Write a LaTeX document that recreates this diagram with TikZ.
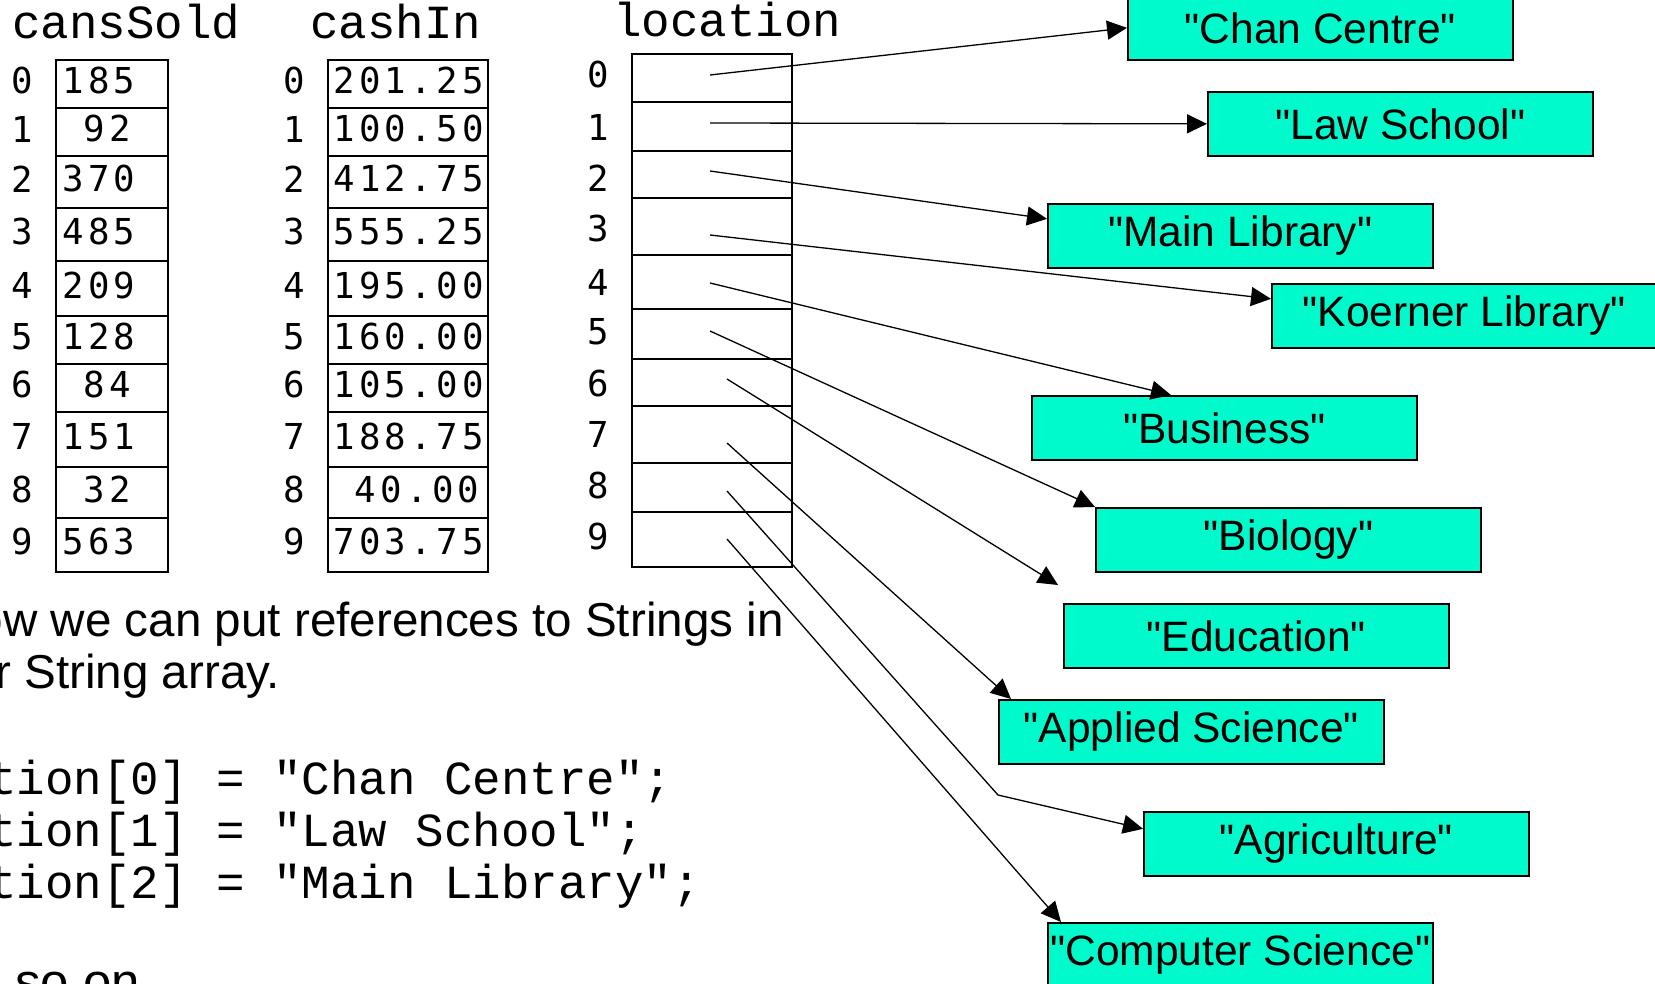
\documentclass[tikz,border=0pt]{standalone}
\usepackage{fontspec}
\newfontfamily\sansf{Liberation Sans}
\newfontfamily\courierf{Liberation Mono}
\newfontfamily\digitf[LetterSpace=12]{DejaVu Sans Mono}
\usetikzlibrary{arrows.meta,calc}
\definecolor{boxfill}{RGB}{0,250,204}
\tikzset{
  lbl/.style={fill=boxfill, draw=black, line width=0.85pt, minimum width=192.5pt, minimum height=32pt, inner sep=0pt, font=\sansf\fontsize{21.25pt}{24pt}\selectfont},
  cellbox/.style={draw=black, line width=0.85pt, inner sep=0pt, anchor=north west},
  num/.style={inner sep=0pt, font=\digitf\fontsize{17.85pt}{20pt}\selectfont},
  mono/.style={inner sep=0pt, font=\courierf\fontsize{23.75pt}{26pt}\selectfont},
  body/.style={inner sep=0pt, font=\sansf\fontsize{23.8pt}{26pt}\selectfont},
  ptr/.style={-{Triangle[length=10pt,width=9.5pt]}, line width=0.65pt}
}
\begin{document}
\begin{tikzpicture}[x=0.5pt,y=-0.5pt]
\useasboundingbox (0,0) rectangle (1655,984);
\clip (0,0) rectangle (1655,984);

% headers
\node[mono, anchor=base west] (hcs) at (12,39) {cansSold};
\node[mono, anchor=base west] (hci) at (310,39) {cashIn};
\node[mono, anchor=base west] (hloc) at (613,37) {location};

% cansSold and cashIn arrays
\foreach \i/\t/\b/\va/\vb in {0/59/107/185/201.25, 1/107/155/\phantom{0}92/100.50, 2/155/207/370/412.75, 3/207/260/485/555.25, 4/260/315/209/195.00, 5/315/363/128/160.00, 6/363/411/\phantom{0}84/105.00, 7/411/466/151/188.75, 8/466/517/\phantom{0}32/\phantom{0}40.00, 9/517/571/563/703.75}{
  \node[cellbox, minimum width=56pt, minimum height={(\b-\t)*0.5pt}] (cs\i) at (55,\t) {};
  \node[cellbox, minimum width=80pt, minimum height={(\b-\t)*0.5pt}] (ci\i) at (327,\t) {};
  \node[num, anchor=west] (csv\i) at (62,{(\t+\b)/2-2}) {\va};
  \node[num, anchor=west] (civ\i) at (333,{(\t+\b)/2-2}) {\vb};
  \node[num] (csi\i) at (22,{(\t+\b)/2-2}) {\i};
  \node[num] (cii\i) at (294,{(\t+\b)/2-2}) {\i};
}

% location array
\foreach \i/\t/\b/\c in {0/53/101/75, 1/101/150/127, 2/150/197/178, 3/197/254/229, 4/254/308/282, 5/308/358/332, 6/358/405/384, 7/405/462/434, 8/462/511/486, 9/511/566/537}{
  \node[cellbox, minimum width=80pt, minimum height={(\b-\t)*0.5pt}] (loc\i) at (631,\t) {};
  \node[num] (li\i) at (598,\c) {\i};
}

% string boxes
\node[lbl, anchor=north west] (chan) at (1127,-5) {"Chan Centre"};
\node[lbl, anchor=north west] (law) at (1207,91) {"Law School"};
\node[lbl, anchor=north west] (main) at (1047,203) {"Main Library"};
\node[lbl, anchor=north west] (koerner) at (1271,283) {"Koerner Library"};
\node[lbl, anchor=north west] (business) at (1031,395) {"Business"};
\node[lbl, anchor=north west] (biology) at (1095,507) {"Biology"};
\node[lbl, anchor=north west] (education) at (1063,603) {"Education"};
\node[lbl, anchor=north west] (applied) at (998,699) {"Applied Science"};
\node[lbl, anchor=north west] (agri) at (1143,811) {"Agriculture"};
\node[lbl, anchor=north west] (cs) at (1047,922) {"Computer Science"};

% pointer start points
\coordinate (p0) at (710,75);
\coordinate (p1) at (710,123);
\coordinate (p2) at (710,171);
\coordinate (p3) at (710,235);
\coordinate (p4) at (710,283);
\coordinate (p5) at (710,331);
\coordinate (p6) at (727,379);
\coordinate (p7) at (727,443);
\coordinate (p8) at (727,491);
\coordinate (p9) at (727,539);
\coordinate (bend) at (998,795);

\draw[ptr] (p0) -- (chan.west);
\draw[ptr] (p1) -- (law.west);
\draw[ptr] (p2) -- ($(main.west)+(0,-17)$);
\draw[ptr] (p3) -- ($(koerner.west)+(0,-17)$);
\draw[ptr] (p4) -- ($(business.north west)+(140,0)$);
\draw[ptr] (p5) -- (biology.north west);
\draw[ptr] (p6) -- ($(education.north west)+(-5,-18)$);
\draw[ptr] (p7) -- ($(applied.north west)+(13,0)$);
\draw[ptr] (p8) -- (bend) -- ($(agri.west)+(0,-15)$);
\draw[ptr] (p9) -- ($(cs.north west)+(14,0)$);

% text
\node[body, anchor=base west] (t1) at (-58,636) {Now we can put references to Strings in};
\node[body, anchor=base west] (t2) at (-58,688) {our String array.};
\node[mono, anchor=base west] (c1) at (-126,794) {location[0] = "Chan Centre";};
\node[mono, anchor=base west] (c2) at (-126,846) {location[1] = "Law School";};
\node[mono, anchor=base west] (c3) at (-126,898) {location[2] = "Main Library";};
\node[body, font=\sansf\fontsize{25.5pt}{28pt}\selectfont, anchor=base west] (t3) at (15,999) {so on};
\end{tikzpicture}
\end{document}
